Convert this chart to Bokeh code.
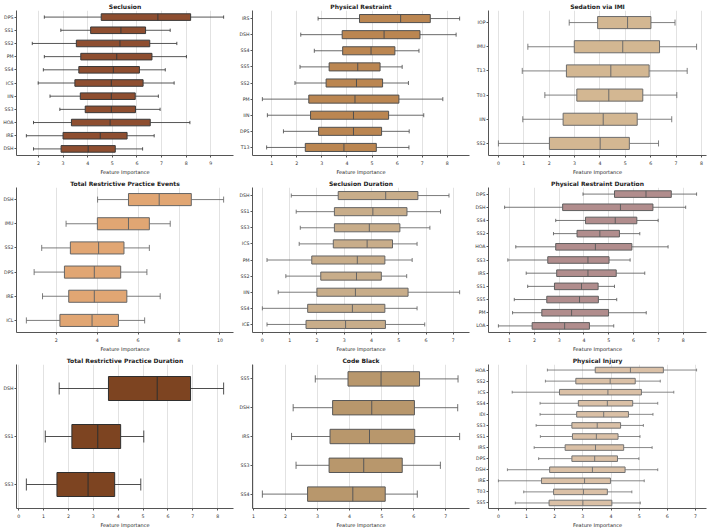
import colorsys

import numpy as np
from bokeh.embed import file_html
from bokeh.layouts import gridplot
from bokeh.models import ColumnDataSource, FixedTicker, Range1d, SingleIntervalTicker
from bokeh.plotting import figure
from bokeh.resources import INLINE

# Each row: (whisker low, Q1, median, Q3, whisker high); features listed top to bottom.
seclusion_features = ["DPS", "SS1", "SS2", "PM", "SS4", "ICS", "IIN", "SS3", "HOA", "IRE", "DSH"]
seclusion_stats = [
    (2.24, 4.55, 6.85, 8.18, 9.52),
    (2.91, 4.12, 5.35, 6.35, 7.35),
    (1.75, 3.54, 5.31, 6.52, 7.62),
    (2.24, 3.72, 5.18, 6.61, 8.01),
    (2.20, 3.64, 5.04, 6.10, 7.15),
    (1.99, 3.48, 4.96, 6.25, 7.51),
    (2.47, 3.70, 4.96, 5.93, 6.87),
    (2.87, 3.90, 4.96, 5.94, 6.94),
    (1.80, 3.34, 4.91, 6.54, 8.15),
    (1.51, 3.00, 4.51, 5.60, 6.70),
    (1.80, 2.92, 4.02, 5.12, 6.23),
]

restraint_features = ["IRS", "DSH", "SS4", "SS5", "SS2", "PM", "IIN", "DPS", "T13"]
restraint_stats = [
    (2.85, 4.50, 6.14, 7.32, 8.49),
    (2.16, 3.81, 5.48, 6.91, 8.35),
    (2.70, 3.83, 4.96, 5.91, 6.87),
    (2.13, 3.29, 4.43, 5.32, 6.20),
    (1.93, 3.17, 4.38, 5.42, 6.45),
    (0.63, 2.48, 4.32, 6.07, 7.82),
    (0.83, 2.55, 4.26, 5.66, 7.06),
    (1.47, 2.87, 4.26, 5.38, 6.48),
    (0.80, 2.34, 3.88, 5.17, 6.47),
]

sedation_features = ["IOP", "IMU", "T13", "T03", "IIN", "SS2"]
sedation_stats = [
    (2.79, 3.91, 5.09, 6.01, 6.96),
    (1.16, 2.99, 4.90, 6.35, 7.81),
    (0.94, 2.68, 4.43, 5.94, 7.44),
    (1.83, 3.09, 4.35, 5.69, 7.03),
    (0.96, 2.55, 4.13, 5.47, 6.83),
    (0.00, 2.01, 4.01, 5.16, 6.31),
]

events_features = ["DSH", "IMU", "SS2", "DPS", "IRE", "ICL"]
events_stats = [
    (4.02, 5.53, 7.03, 8.60, 10.18),
    (2.48, 4.01, 5.53, 6.55, 7.57),
    (1.29, 2.69, 4.07, 5.31, 6.55),
    (0.92, 2.40, 3.86, 5.15, 6.43),
    (1.33, 2.61, 3.86, 5.45, 7.08),
    (0.54, 2.18, 3.75, 5.04, 6.32),
]

seclusion_dur_features = ["DSH", "SS1", "SS3", "ICS", "PM", "SS2", "IIN", "SS4", "ICE"]
seclusion_dur_stats = [
    (1.06, 2.78, 4.52, 5.70, 6.84),
    (1.24, 2.64, 4.05, 5.30, 6.53),
    (1.39, 2.64, 3.92, 5.04, 6.14),
    (1.35, 2.60, 3.84, 4.77, 5.67),
    (0.17, 1.81, 3.48, 4.49, 5.49),
    (0.86, 2.14, 3.45, 4.36, 5.29),
    (0.58, 2.00, 3.41, 5.34, 7.23),
    (0.00, 1.66, 3.30, 4.49, 5.67),
    (0.17, 1.60, 3.05, 4.51, 5.95),
]

restraint_dur_features = ["DPS", "DSH", "SS4", "SS2", "HOA", "SS3", "IRS", "SS1", "SS5", "PM", "LOA"]
restraint_dur_stats = [
    (3.96, 5.23, 6.50, 7.52, 8.54),
    (0.80, 3.14, 5.47, 6.78, 8.10),
    (2.86, 4.06, 5.26, 6.13, 6.99),
    (2.77, 3.72, 4.64, 5.43, 6.25),
    (1.25, 2.86, 4.46, 5.93, 7.39),
    (0.93, 2.54, 4.16, 5.01, 5.86),
    (1.67, 2.90, 4.16, 5.30, 6.45),
    (1.73, 2.81, 3.90, 4.57, 5.23),
    (1.19, 2.50, 3.82, 4.58, 5.32),
    (1.12, 2.30, 3.50, 4.99, 6.51),
    (0.55, 1.91, 3.22, 4.22, 5.20),
]

total_dur_features = ["DSH", "SS1", "SS3"]
total_dur_stats = [
    (1.63, 3.61, 5.57, 6.91, 8.24),
    (1.07, 2.14, 3.18, 4.10, 5.03),
    (0.31, 1.54, 2.79, 3.86, 4.91),
]

code_black_features = ["SS5", "DSH", "IRS", "SS3", "SS4"]
code_black_stats = [
    (2.93, 3.95, 4.98, 6.18, 7.38),
    (2.24, 3.47, 4.69, 6.02, 7.37),
    (2.19, 3.39, 4.62, 6.03, 7.43),
    (2.33, 3.36, 4.44, 5.64, 6.83),
    (1.28, 2.69, 4.10, 5.11, 6.11),
]

injury_features = ["HOA", "SS2", "ICS", "SS4", "IDI", "SS3", "SS1", "IRS", "DPS", "DSH", "IRE", "T03", "SS5"]
injury_stats = [
    (1.74, 3.44, 4.69, 5.86, 7.04),
    (1.67, 2.75, 3.97, 4.86, 5.75),
    (0.49, 2.17, 3.89, 5.08, 6.23),
    (1.48, 2.84, 3.87, 4.77, 5.66),
    (1.48, 2.78, 3.74, 4.62, 5.49),
    (1.34, 2.61, 3.51, 4.34, 5.15),
    (1.49, 2.63, 3.48, 4.25, 5.03),
    (1.27, 2.37, 3.45, 4.45, 5.46),
    (1.43, 2.61, 3.42, 4.23, 4.99),
    (0.32, 1.82, 3.34, 4.50, 5.66),
    (0.00, 1.53, 3.06, 3.98, 5.18),
    (0.90, 1.96, 3.02, 3.87, 4.74),
    (0.60, 1.80, 3.00, 4.03, 5.04),
]

FONT = "DejaVu Sans"


def line_gray(hex_color):
    """Neutral outline colour derived from the fill's lightness."""
    r, g, b = (int(hex_color[i:i + 2], 16) / 255 for i in (1, 3, 5))
    lum = colorsys.rgb_to_hls(r, g, b)[1] * 0.6
    v = int(round(lum * 255))
    return f"#{v:02x}{v:02x}{v:02x}"


def box_panel(title, features, stats, fill, width, height, interval):
    s = np.asarray(stats, dtype=float)
    n = len(features)
    ypos = np.arange(n, 0, -1).astype(float)
    src = ColumnDataSource(dict(
        y=ypos, lo=s[:, 0], q1=s[:, 1], med=s[:, 2], q3=s[:, 3], hi=s[:, 4],
        cap0=ypos - 0.125, cap1=ypos + 0.125, box0=ypos - 0.25, box1=ypos + 0.25,
    ))
    span = s[:, 4].max() - s[:, 0].min()
    xr = Range1d(s[:, 0].min() - 0.05 * span, s[:, 4].max() + 0.05 * span)

    p = figure(width=width, height=height, output_backend="svg", toolbar_location=None,
               x_range=xr, y_range=Range1d(0.5, n + 0.5),
               min_border_left=12, min_border_right=3, min_border_top=8, min_border_bottom=14)
    p.outline_line_color = None
    p.background_fill_color = "white"
    p.border_fill_color = "white"

    gray = line_gray(fill)
    whisk = dict(source=src, line_color=gray, line_width=1, line_alpha=0.85)
    p.segment(x0="lo", y0="y", x1="q1", y1="y", **whisk)
    p.segment(x0="q3", y0="y", x1="hi", y1="y", **whisk)
    p.segment(x0="lo", y0="cap0", x1="lo", y1="cap1", **whisk)
    p.segment(x0="hi", y0="cap0", x1="hi", y1="cap1", **whisk)
    p.hbar(y="y", left="q1", right="q3", height=0.5, source=src,
           fill_color=fill, line_color=gray, line_width=1)
    p.segment(x0="med", y0="box0", x1="med", y1="box1", source=src, line_color=gray, line_width=1)

    p.title.text = title
    p.title.align = "center"
    p.title.text_font = FONT
    p.title.text_font_size = "6px"
    p.title.text_font_style = "bold"
    p.title.text_color = "#222222"
    p.title.standoff = 1
    p.title.offset = 0

    p.ygrid.grid_line_color = None
    p.xgrid.grid_line_color = "#e2e2e2"
    p.xgrid.grid_line_width = 1

    p.xaxis.ticker = SingleIntervalTicker(interval=interval)
    p.yaxis.ticker = FixedTicker(ticks=list(ypos))
    p.yaxis.major_label_overrides = {float(y): f for y, f in zip(ypos, features)}
    p.xaxis.axis_label = "Feature Importance"

    for ax in (p.xaxis[0], p.yaxis[0]):
        ax.axis_line_color = "#555555"
        ax.axis_line_width = 1
        ax.major_tick_line_color = "#555555"
        ax.major_tick_out = 2
        ax.major_tick_in = 0
        ax.minor_tick_line_color = None
        ax.major_label_text_font = FONT
        ax.major_label_text_font_size = "4.7px"
        ax.major_label_text_color = "#333333"
        ax.major_label_standoff = 1
        ax.axis_label_text_font = FONT
        ax.axis_label_text_font_size = "5px"
        ax.axis_label_text_font_style = "normal"
        ax.axis_label_text_color = "#222222"
        ax.axis_label_standoff = 1
    return p


W = [236, 236, 237]
H = [177, 177, 176]

panels = [
    [
        box_panel("Seclusion", seclusion_features, seclusion_stats, "#8E4E30", W[0], H[0], 1),
        box_panel("Physical Restraint", restraint_features, restraint_stats, "#BB8651", W[1], H[0], 1),
        box_panel("Sedation via IMI", sedation_features, sedation_stats, "#D3B792", W[2], H[0], 1),
    ],
    [
        box_panel("Total Restrictive Practice Events", events_features, events_stats, "#E1A673", W[0], H[1], 2),
        box_panel("Seclusion Duration", seclusion_dur_features, seclusion_dur_stats, "#C8AD8A", W[1], H[1], 1),
        box_panel("Physical Restraint Duration", restraint_dur_features, restraint_dur_stats, "#B18D8D", W[2], H[1], 1),
    ],
    [
        box_panel("Total Restrictive Practice Duration", total_dur_features, total_dur_stats, "#7D4421", W[0], H[2], 1),
        box_panel("Code Black", code_black_features, code_black_stats, "#B8976C", W[1], H[2], 1),
        box_panel("Physical Injury", injury_features, injury_stats, "#DAC0A6", W[2], H[2], 1),
    ],
]

grid = gridplot(panels, toolbar_location=None)

with open("out.html", "w") as fh:
    fh.write(file_html(grid, INLINE))
